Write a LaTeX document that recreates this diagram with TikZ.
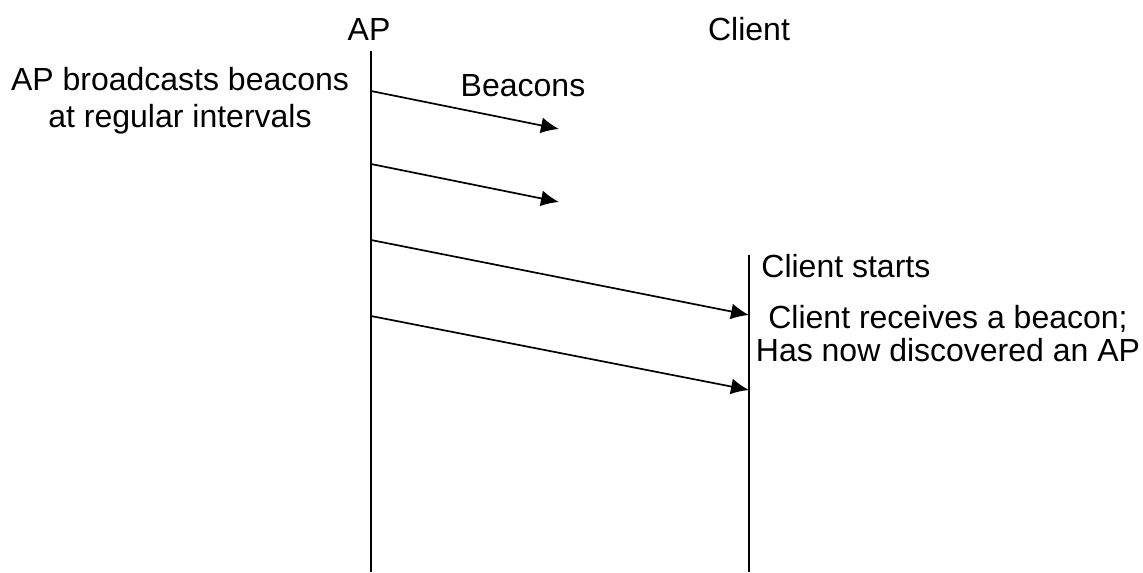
\documentclass[tikz,border=0pt]{standalone}
\usepackage{fontspec}
\setmainfont{Liberation Sans}
\usetikzlibrary{arrows.meta}
\begin{document}
\begin{tikzpicture}
[x=0.5pt, y=-0.5pt,
lifeline/.style={draw=black, line width=0.85pt},
label/.style={font=\fontsize{16}{18.5}\selectfont, inner sep=0pt},
connect/.style={-{Latex[length=9pt, width=8pt]}, line width=0.85pt}]
\useasboundingbox (0,0) rectangle (1143,572);
\node[label, anchor=base]	(aptitle) at (369, 41) {AP};
\node[label, anchor=base]	(clienttitle) at (749, 41) {Client};
\node[label, anchor=north, align=center]	(apnote) at (180, 67) {AP broadcasts beacons\\at regular intervals};
\node[label, anchor=base]	(beaconlabel) at (523, 97) {Beacons};
\node[label, anchor=base west]	(clientstart) at (761, 277) {Client starts};
\node[label, anchor=north, align=center, font=\fontsize{16}{16.5}\selectfont]	(clientnote) at (948, 305) {Client receives a beacon;\\Has now discovered an AP};
\coordinate	(aptop) at (371, 51);
\coordinate	(apbottom) at (371, 572);
\coordinate	(clienttop) at (749, 255);
\coordinate	(clientbottom) at (749, 572);
\coordinate	(ap1) at (371, 91);
\coordinate	(ap2) at (371, 164);
\coordinate	(ap3) at (371, 240);
\coordinate	(ap4) at (371, 316);
\coordinate	(beacon1) at (559, 129);
\coordinate	(beacon2) at (559, 202);
\coordinate	(client1) at (749, 315);
\coordinate	(client2) at (749, 390);
\draw[lifeline] (aptop) -- (apbottom);
\draw[lifeline] (clienttop) -- (clientbottom);
\draw[connect] (ap1) -- (beacon1);
\draw[connect] (ap2) -- (beacon2);
\draw[connect] (ap3) -- (client1);
\draw[connect] (ap4) -- (client2);

\end{tikzpicture}
\end{document}
